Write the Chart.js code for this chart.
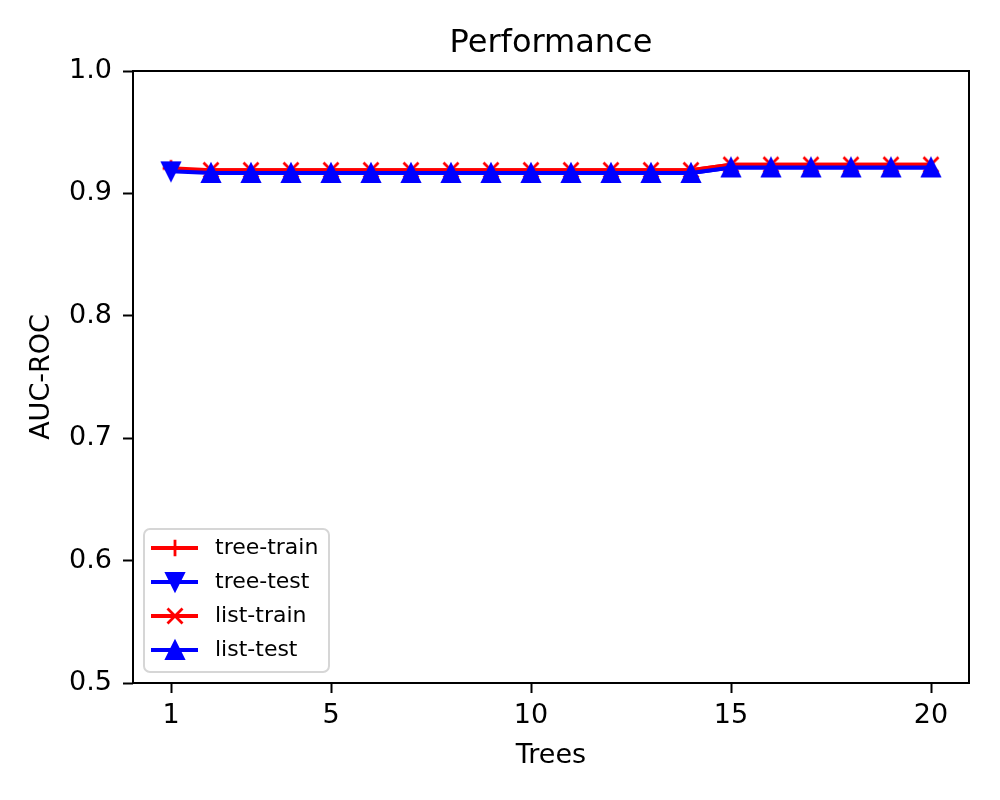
<!DOCTYPE html>
<html>
<head>
<meta charset="utf-8">
<script src="https://cdn.jsdelivr.net/npm/chart.js@4/dist/chart.umd.min.js"></script>
<style>
  html, body { margin: 0; padding: 0; background: #fff; }
  #wrap { width: 1000px; height: 800px; }
</style>
</head>
<body>
<div id="wrap"><canvas id="chart" width="1000" height="800"></canvas></div>
<script>
// values
const trees = [1, 2, 3, 4, 5, 6, 7, 8, 9, 10, 11, 12, 13, 14, 15, 16, 17, 18, 19, 20];
const treeTrain = [0.9205, 0.919, 0.919, 0.919, 0.919, 0.919, 0.919, 0.919, 0.919, 0.919,
  0.919, 0.919, 0.919, 0.919, 0.9235, 0.9235, 0.9235, 0.9235, 0.9235, 0.9235];
const treeTest = [0.918, 0.9167, 0.9167, 0.9167, 0.9167, 0.9167, 0.9167, 0.9167, 0.9167, 0.9167,
  0.9167, 0.9167, 0.9167, 0.9167, 0.9212, 0.9212, 0.9212, 0.9212, 0.9212, 0.9212];
const listTrain = [null, 0.919, 0.919, 0.919, 0.919, 0.919, 0.919, 0.919, 0.919, 0.919,
  0.919, 0.919, 0.919, 0.919, 0.9235, 0.9235, 0.9235, 0.9235, 0.9235, 0.9235];
const listTest = [null, 0.9167, 0.9167, 0.9167, 0.9167, 0.9167, 0.9167, 0.9167, 0.9167, 0.9167,
  0.9167, 0.9167, 0.9167, 0.9167, 0.9212, 0.9212, 0.9212, 0.9212, 0.9212, 0.9212];
const xTicks = [1, 5, 10, 15, 20];

const RED = '#ff0000';
const BLUE = '#0000ff';
const FONT = "'DejaVu Sans', sans-serif";

// matplotlib-like markers drawn into small canvases
function makeMarker(kind, color) {
  const s = 28, c = document.createElement('canvas');
  c.width = s; c.height = s;
  const g = c.getContext('2d');
  const m = s / 2;
  g.strokeStyle = color;
  g.fillStyle = color;
  g.lineWidth = 2.8;
  g.lineJoin = 'miter';
  g.beginPath();
  if (kind === '+') {
    const h = 8.35;
    g.moveTo(m - h, m); g.lineTo(m + h, m);
    g.moveTo(m, m - h); g.lineTo(m, m + h);
    g.stroke();
  } else if (kind === 'x') {
    const h = 7.5;
    g.moveTo(m - h, m - h); g.lineTo(m + h, m + h);
    g.moveTo(m - h, m + h); g.lineTo(m + h, m - h);
    g.stroke();
  } else if (kind === '^') {
    const h = 9;
    g.moveTo(m, m - h); g.lineTo(m - h, m + h); g.lineTo(m + h, m + h); g.closePath();
    g.fill(); g.lineWidth = 2; g.stroke();
  } else {
    const h = 9;
    g.moveTo(m, m + h); g.lineTo(m - h, m - h); g.lineTo(m + h, m - h); g.closePath();
    g.fill(); g.lineWidth = 2; g.stroke();
  }
  return c;
}

const series = [
  { label: 'tree-train', values: treeTrain, color: RED, marker: makeMarker('+', RED), firstOnly: true },
  { label: 'tree-test', values: treeTest, color: BLUE, marker: makeMarker('v', BLUE), firstOnly: true },
  { label: 'list-train', values: listTrain, color: RED, marker: makeMarker('x', RED), firstOnly: false },
  { label: 'list-test', values: listTest, color: BLUE, marker: makeMarker('^', BLUE), firstOnly: false },
];

const datasets = series.map((s, i) => ({
  label: s.label,
  data: trees.map((t, j) => ({ x: t, y: s.values[j] })),
  borderColor: s.color,
  backgroundColor: s.color,
  borderWidth: 4,
  tension: 0,
  pointStyle: s.marker,
  pointRadius: s.firstOnly ? (ctx) => (ctx.dataIndex === 0 ? 10 : 0) : 10,
  order: series.length - i,
}));

const extras = {
  id: 'extras',
  afterDatasetsDraw(chart) {
    const { ctx, chartArea: a } = chart;
    ctx.save();
    ctx.strokeStyle = '#000';
    ctx.lineWidth = 2;
    ctx.strokeRect(a.left, a.top, a.right - a.left, a.bottom - a.top);
    ctx.restore();
  },
  afterDraw(chart) {
    const { ctx, chartArea: a } = chart;
    ctx.save();
    // title
    ctx.fillStyle = '#000';
    ctx.font = '32px ' + FONT;
    ctx.textAlign = 'center';
    ctx.textBaseline = 'alphabetic';
    ctx.fillText('Performance', (a.left + a.right) / 2, 52);

    // legend
    const bx = 144, by = 529, bw = 185, bh = 143, r = 6;
    ctx.beginPath();
    ctx.moveTo(bx + r, by);
    ctx.arcTo(bx + bw, by, bx + bw, by + bh, r);
    ctx.arcTo(bx + bw, by + bh, bx, by + bh, r);
    ctx.arcTo(bx, by + bh, bx, by, r);
    ctx.arcTo(bx, by, bx + bw, by, r);
    ctx.closePath();
    ctx.fillStyle = 'rgba(255,255,255,0.8)';
    ctx.fill();
    ctx.strokeStyle = '#d6d6d6';
    ctx.lineWidth = 2;
    ctx.stroke();

    ctx.font = '22px ' + FONT;
    ctx.textAlign = 'left';
    ctx.textBaseline = 'middle';
    series.forEach((s, i) => {
      const y = 548 + i * 34;
      ctx.strokeStyle = s.color;
      ctx.lineWidth = 4;
      ctx.beginPath();
      ctx.moveTo(151, y);
      ctx.lineTo(198, y);
      ctx.stroke();
      ctx.drawImage(s.marker, 175 - s.marker.width / 2, y - s.marker.height / 2);
      ctx.fillStyle = '#000';
      ctx.fillText(s.label, 215, y);
    });
    ctx.restore();
  }
};

new Chart(document.getElementById('chart'), {
  type: 'line',
  data: { datasets },
  options: {
    responsive: false,
    animation: false,
    events: [],
    devicePixelRatio: 1,
    layout: { padding: { top: 71, right: 31, left: 0, bottom: 0 } },
    plugins: { legend: { display: false }, tooltip: { enabled: false }, title: { display: false } },
    scales: {
      x: {
        type: 'linear',
        min: 0.05,
        max: 20.95,
        afterBuildTicks: (scale) => { scale.ticks = xTicks.map(v => ({ value: v })); },
        afterFit: (scale) => { scale.height = 117; },
        border: { display: false },
        grid: { drawOnChartArea: false, drawTicks: true, tickLength: 10, tickWidth: 2, tickColor: '#000' },
        ticks: { color: '#000', font: { family: FONT, size: 27 }, padding: 7, maxRotation: 0, autoSkip: false },
        title: { display: true, text: 'Trees', color: '#000', font: { family: FONT, size: 27 }, padding: { top: 0, bottom: 28 } },
      },
      y: {
        min: 0.5,
        max: 1.0,
        afterFit: (scale) => { scale.width = 133; },
        border: { display: false },
        grid: { drawOnChartArea: false, drawTicks: true, tickLength: 10, tickWidth: 2, tickColor: '#000' },
        ticks: { color: '#000', font: { family: FONT, size: 27 }, padding: 11, stepSize: 0.1, callback: (v) => v.toFixed(1) },
        title: { display: true, text: 'AUC-ROC', color: '#000', font: { family: FONT, size: 27 }, padding: { top: 26, bottom: 0 } },
      },
    },
  },
  plugins: [extras],
});
</script>
</body>
</html>
